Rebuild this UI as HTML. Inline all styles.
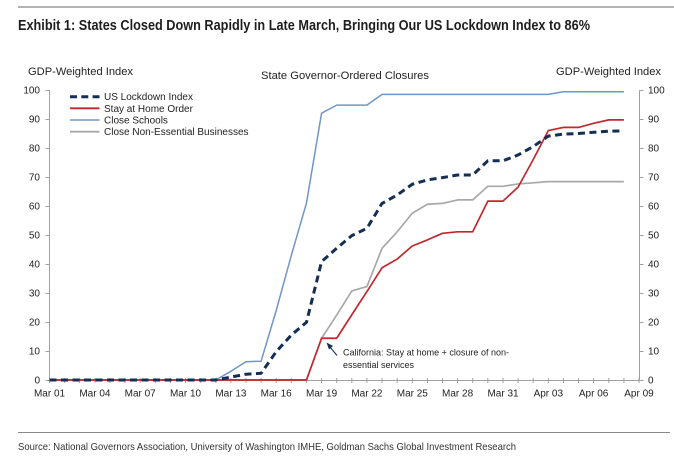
<!DOCTYPE html>
<html>
<head>
<meta charset="utf-8">
<style>
  html, body { margin:0; padding:0; background:#fff; }
  svg { display:block; }
  text { font-family: "Liberation Sans", Arial, sans-serif; }
</style>
</head>
<body>
<svg width="674" height="456" viewBox="0 0 674 456" xmlns="http://www.w3.org/2000/svg">
  <rect width="674" height="456" fill="#fff"/>
  <!-- top rule -->
  <line x1="18" y1="7" x2="674" y2="7" stroke="#9a9a9a" stroke-width="1.5"/>
  <!-- title -->
  <text x="18" y="30" font-size="14.5" font-weight="bold" fill="#1e1e1e" textLength="572" lengthAdjust="spacingAndGlyphs">Exhibit 1: States Closed Down Rapidly in Late March, Bringing Our US Lockdown Index to 86%</text>

  <!-- axis titles -->
  <text x="28" y="75" font-size="11" fill="#222" textLength="105" lengthAdjust="spacingAndGlyphs">GDP-Weighted Index</text>
  <text x="261" y="79" font-size="11" fill="#222" textLength="168" lengthAdjust="spacingAndGlyphs">State Governor-Ordered Closures</text>
  <text x="556" y="75" font-size="11" fill="#222" textLength="105" lengthAdjust="spacingAndGlyphs">GDP-Weighted Index</text>

  <!-- axes -->
  <g stroke="#a0a0a0" stroke-width="1" fill="none">
    <line x1="49.5" y1="90" x2="49.5" y2="380.5"/>
    <line x1="639.5" y1="90" x2="639.5" y2="380.5"/>
    <line x1="49.5" y1="380.5" x2="639.5" y2="380.5"/>
    <!-- left ticks -->
    <path d="M45.5 90.5H49.5M45.5 119.5H49.5M45.5 148.5H49.5M45.5 177.5H49.5M45.5 206.5H49.5M45.5 235.5H49.5M45.5 264.5H49.5M45.5 293.5H49.5M45.5 322.5H49.5M45.5 351.5H49.5M45.5 380.5H49.5"/>
    <!-- right ticks -->
    <path d="M639.5 90.5H643.5M639.5 119.5H643.5M639.5 148.5H643.5M639.5 177.5H643.5M639.5 206.5H643.5M639.5 235.5H643.5M639.5 264.5H643.5M639.5 293.5H643.5M639.5 322.5H643.5M639.5 351.5H643.5M639.5 380.5H643.5"/>
    <!-- x ticks daily -->
    <path d="M49.5 378V383M64.6 378V383M79.7 378V383M94.9 378V383M110 378V383M125.1 378V383M140.2 378V383M155.3 378V383M170.4 378V383M185.5 378V383M200.7 378V383M215.8 378V383M230.9 378V383M246 378V383M261.1 378V383M276.2 378V383M291.3 378V383M306.5 378V383M321.6 378V383M336.7 378V383M351.8 378V383M366.9 378V383M382 378V383M397.2 378V383M412.3 378V383M427.4 378V383M442.5 378V383M457.6 378V383M472.7 378V383M487.8 378V383M503 378V383M518.1 378V383M533.2 378V383M548.3 378V383M563.4 378V383M578.5 378V383M593.6 378V383M608.8 378V383M623.9 378V383M639 378V383"/>
  </g>

  <!-- left y labels -->
  <g font-size="10" fill="#222" text-anchor="end">
    <text x="40" y="93.5">100</text>
    <text x="40" y="122.5">90</text>
    <text x="40" y="151.5">80</text>
    <text x="40" y="180.5">70</text>
    <text x="40" y="209.5">60</text>
    <text x="40" y="238.5">50</text>
    <text x="40" y="267.5">40</text>
    <text x="40" y="296.5">30</text>
    <text x="40" y="325.5">20</text>
    <text x="40" y="354.5">10</text>
    <text x="40" y="383.5">0</text>
  </g>
  <!-- right y labels -->
  <g font-size="10" fill="#222" text-anchor="start">
    <text x="648" y="93.5">100</text>
    <text x="648" y="122.5">90</text>
    <text x="648" y="151.5">80</text>
    <text x="648" y="180.5">70</text>
    <text x="648" y="209.5">60</text>
    <text x="648" y="238.5">50</text>
    <text x="648" y="267.5">40</text>
    <text x="648" y="296.5">30</text>
    <text x="648" y="325.5">20</text>
    <text x="648" y="354.5">10</text>
    <text x="648" y="383.5">0</text>
  </g>
  <!-- x labels -->
  <g font-size="10" fill="#222" text-anchor="middle">
    <text x="49.5" y="396.5">Mar 01</text>
    <text x="94.9" y="396.5">Mar 04</text>
    <text x="140.2" y="396.5">Mar 07</text>
    <text x="185.5" y="396.5">Mar 10</text>
    <text x="230.9" y="396.5">Mar 13</text>
    <text x="276.2" y="396.5">Mar 16</text>
    <text x="321.6" y="396.5">Mar 19</text>
    <text x="366.9" y="396.5">Mar 22</text>
    <text x="412.3" y="396.5">Mar 25</text>
    <text x="457.6" y="396.5">Mar 28</text>
    <text x="503" y="396.5">Mar 31</text>
    <text x="548.3" y="396.5">Apr 03</text>
    <text x="593.6" y="396.5">Apr 06</text>
    <text x="639" y="396.5">Apr 09</text>
  </g>

  <!-- series -->
  <g fill="none" stroke-linejoin="round">
    <!-- Close Non-Essential (gray) -->
    <polyline stroke="#a8a8a8" stroke-width="1.7" points="49.5,380 306.46,380 321.57,338.24 336.69,315.04 351.8,290.97 366.92,286.62 382.03,248.34 397.15,231.8 412.26,213.25 427.38,204.26 442.49,203.4 457.61,199.9 472.72,199.9 487.84,186.3 502.95,186.3 518.07,183.96 533.18,182.8 548.3,181.64 623.87,181.64"/>
    <!-- Close Schools (blue) -->
    <polyline stroke="#7096c4" stroke-width="1.5" points="49.5,380 215.77,380 230.88,371.3 246,361.7 261.11,361.2 276.23,310.4 291.34,255.3 306.46,203.1 321.57,113.2 336.69,105.1 366.92,105.1 382.03,94.4 548.3,94.4 563.41,91.7 623.87,91.7"/>
    <!-- Stay at Home (red) -->
    <polyline stroke="#c0282e" stroke-width="1.7" points="49.5,380 306.46,380 321.57,338.24 336.69,338.24 351.8,314.75 366.92,291.55 382.03,267.77 397.15,259.07 412.26,246 427.38,239.9 442.49,233.3 457.61,231.8 472.72,231.8 487.84,201.1 502.95,201.1 518.07,187.15 533.18,159.6 548.3,130.6 563.41,127.4 578.53,127.4 593.64,123.35 608.76,119.87 623.87,119.87"/>
    <!-- US Lockdown Index (dashed navy) -->
    <polyline stroke="#142f52" stroke-width="3" stroke-dasharray="7 4.5" points="49.5,380 215.77,380 230.88,377.1 246,374.2 261.11,373.3 276.23,351.6 291.34,335.05 306.46,322.3 321.57,261.7 336.69,248.3 351.8,235.6 366.92,228.3 382.03,203.4 397.15,195 412.26,184.25 427.38,179.9 442.49,177.6 457.61,175 472.72,175 487.84,160.8 502.95,160.8 518.07,154.96 533.18,146.55 548.3,136.1 563.41,134.1 578.53,133.5 593.64,132.3 608.76,131.2 623.87,130.9"/>
  </g>

  <!-- legend -->
  <g>
    <line x1="70" y1="96.7" x2="99.5" y2="96.7" stroke="#142f52" stroke-width="3" stroke-dasharray="7 4.3"/>
    <line x1="70" y1="108.3" x2="99.5" y2="108.3" stroke="#c0282e" stroke-width="1.8"/>
    <line x1="70" y1="120" x2="99.5" y2="120" stroke="#7096c4" stroke-width="1.6"/>
    <line x1="70" y1="131.7" x2="99.5" y2="131.7" stroke="#a8a8a8" stroke-width="1.8"/>
    <g font-size="10" fill="#222">
      <text x="104" y="100.2">US Lockdown Index</text>
      <text x="104" y="111.8">Stay at Home Order</text>
      <text x="104" y="123.5">Close Schools</text>
      <text x="104" y="135.2">Close Non-Essential Businesses</text>
    </g>
  </g>

  <!-- annotation -->
  <line x1="337" y1="355.5" x2="330" y2="347" stroke="#142f52" stroke-width="1"/>
  <polygon points="326.5,342.5 333,346 329,349.5" fill="#142f52"/>
  <g font-size="9" fill="#222">
    <text x="343" y="355.5" textLength="166" lengthAdjust="spacingAndGlyphs">California: Stay at home + closure of non-</text>
    <text x="343" y="368">essential services</text>
  </g>

  <!-- bottom rule and source -->
  <line x1="18" y1="432.5" x2="670" y2="432.5" stroke="#8a8a8a" stroke-width="1"/>
  <text x="18" y="450" font-size="10.5" fill="#333" textLength="498" lengthAdjust="spacingAndGlyphs">Source: National Governors Association, University of Washington IMHE, Goldman Sachs Global Investment Research</text>
</svg>
</body>
</html>
